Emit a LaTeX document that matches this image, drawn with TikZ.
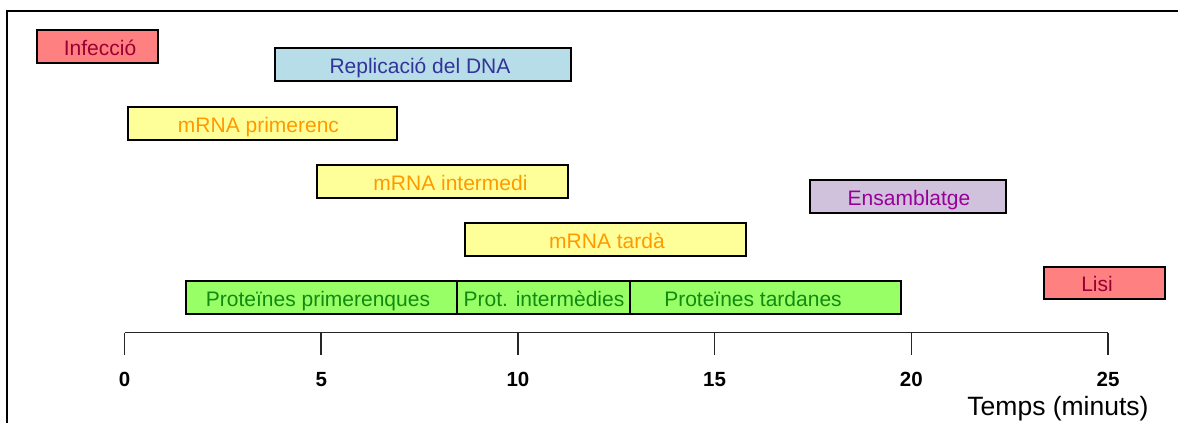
\documentclass[tikz,border=0pt]{standalone}
\usepackage{fontspec}
\setmainfont{Liberation Sans}
\definecolor{redfill}{HTML}{FF8080}
\definecolor{redtext}{HTML}{990033}
\definecolor{cyanfill}{HTML}{B7DEE8}
\definecolor{bluetext}{HTML}{333399}
\definecolor{yellowfill}{HTML}{FFFF99}
\definecolor{orangetext}{HTML}{FF9900}
\definecolor{lilacfill}{HTML}{D0C2DC}
\definecolor{purpletext}{HTML}{990099}
\definecolor{greenfill}{HTML}{99FF66}
\definecolor{greentext}{HTML}{108A10}
\begin{document}
\begin{tikzpicture}[x=1pt,y=-1pt,
  bar/.style={draw=black,line width=2pt,minimum height=33pt,inner sep=0pt},
  lbl/.style={font=\fontsize{21}{25}\selectfont,text height=15pt,text depth=0pt,inner sep=0pt,yshift=-1pt},
  ticklbl/.style={font=\bfseries\fontsize{20.5}{24}\selectfont,text height=14.7pt,text depth=0pt,inner sep=0pt},
  axisline/.style={line width=1.5pt,draw=black!85},
  frameline/.style={line width=2.2pt,draw=black}]
\fill[white] (0,0) rectangle (1178,423);
\useasboundingbox (0,0) rectangle (1178,423);
% frame
\draw[frameline] (7,423) -- (7,11) -- (1178,11);
% bars
\node[bar,fill=redfill,minimum width=121pt,label={[lbl,text=redtext,xshift=2.5pt,name=infT]center:Infecció}] (inf) at (97.5,46.5) {};
\node[bar,fill=cyanfill,minimum width=296pt,label={[lbl,text=bluetext,xshift=-3pt,name=repT]center:Replicació del DNA}] (rep) at (423,64.5) {};
\node[bar,fill=yellowfill,minimum width=269pt,label={[lbl,text=orangetext,xshift=-4pt,name=mpT]center:mRNA primerenc}] (mp) at (262.5,123.5) {};
\node[bar,fill=yellowfill,minimum width=251pt,label={[lbl,text=orangetext,xshift=8pt,name=miT]center:mRNA intermedi}] (mi) at (442.5,181.5) {};
\node[bar,fill=lilacfill,minimum width=196pt,label={[lbl,text=purpletext,xshift=1pt,name=ensT]center:Ensamblatge}] (ens) at (908,196.5) {};
\node[bar,fill=yellowfill,minimum width=281pt,label={[lbl,text=orangetext,xshift=1.5pt,name=mtT]center:mRNA tardà}] (mt) at (605.5,239.5) {};
\node[bar,fill=greenfill,minimum width=271pt,label={[lbl,text=greentext,xshift=-3.5pt,name=ppT]center:Proteïnes primerenques}] (pp) at (321.5,297.5) {};
\node[bar,fill=greenfill,minimum width=173pt,label={[lbl,text=greentext,xshift=0.5pt,name=piT]center:Prot. intermèdies}] (pi) at (543.5,297.5) {};
\node[bar,fill=greenfill,minimum width=271pt,label={[lbl,text=greentext,xshift=-12.5pt,name=ptT]center:Proteïnes tardanes}] (pt) at (765.5,297.5) {};
\node[bar,fill=redfill,minimum width=121pt,minimum height=32pt,label={[lbl,text=redtext,xshift=-7.5pt,name=lisiT]center:Lisi}] (lisi) at (1104.5,283) {};
% axis
\foreach \i/\v in {0/0,1/5,2/10,3/15,4/20,5/25}{
  \coordinate (t\i) at ({124.5+196.7*\i},332.5);
  \coordinate (b\i) at ({124.5+196.7*\i},354.5);
  \draw[axisline] (t\i) -- (b\i);
  \node[ticklbl] (n\i) at ({124.5+196.7*\i},379.3) {\v};
}
\draw[axisline] (t0) -- (t5);
\node[font=\fontsize{26.5}{30}\selectfont,anchor=base,inner sep=0pt] (tlab) at (1058,415) {Temps (minuts)};
\end{tikzpicture}
\end{document}
